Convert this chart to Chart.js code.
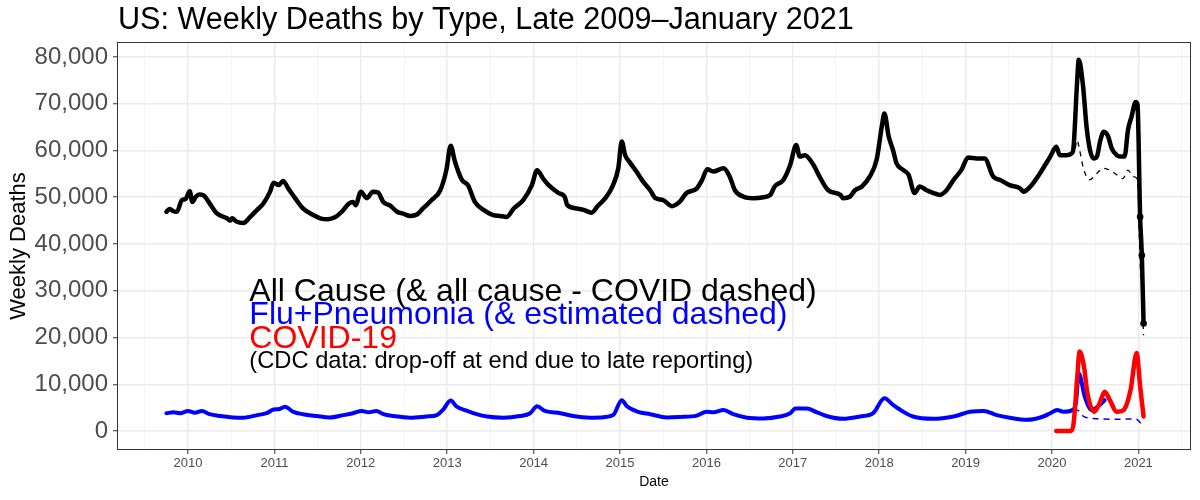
<!DOCTYPE html>
<html>
<head>
<meta charset="utf-8">
<script src="https://cdn.jsdelivr.net/npm/chart.js@4/dist/chart.umd.min.js"></script>
<style>
  html, body { margin: 0; padding: 0; background: #fff; }
</style>
</head>
<body>
<canvas id="deathsChart" width="1200" height="500"></canvas>
<script>
// values, x = decimal year, y = weekly deaths

const allCauseDates = [
  2009.75, 2009.79, 2009.83, 2009.87, 2009.93, 2009.97, 2010.02, 2010.05, 2010.09, 2010.13,
  2010.18, 2010.25, 2010.33, 2010.45, 2010.49, 2010.51, 2010.56, 2010.64, 2010.72, 2010.80,
  2010.87, 2010.95, 2010.99, 2011.05, 2011.10, 2011.16, 2011.24, 2011.33, 2011.45, 2011.53,
  2011.62, 2011.70, 2011.78, 2011.86, 2011.91, 2011.94, 2012.00, 2012.07, 2012.14, 2012.20,
  2012.26, 2012.34, 2012.42, 2012.49, 2012.57, 2012.65, 2012.72, 2012.82, 2012.92, 2012.99,
  2013.04, 2013.09, 2013.17, 2013.24, 2013.32, 2013.42, 2013.53, 2013.61, 2013.69, 2013.77,
  2013.88, 2013.98, 2014.04, 2014.11, 2014.19, 2014.29, 2014.36, 2014.39, 2014.50, 2014.58,
  2014.67, 2014.75, 2014.83, 2014.92, 2014.98, 2015.02, 2015.06, 2015.12, 2015.19, 2015.27,
  2015.35, 2015.41, 2015.50, 2015.60, 2015.69, 2015.77, 2015.89, 2015.95, 2016.01, 2016.08,
  2016.20, 2016.27, 2016.33, 2016.43, 2016.54, 2016.66, 2016.74, 2016.79, 2016.89, 2016.97,
  2017.04, 2017.08, 2017.14, 2017.24, 2017.31, 2017.41, 2017.55, 2017.58, 2017.66, 2017.72,
  2017.80, 2017.89, 2017.97, 2018.03, 2018.06, 2018.11, 2018.16, 2018.20, 2018.28, 2018.34,
  2018.41, 2018.47, 2018.55, 2018.63, 2018.70, 2018.78, 2018.86, 2018.95, 2019.03, 2019.13,
  2019.22, 2019.32, 2019.40, 2019.51, 2019.63, 2019.67, 2019.75, 2019.86, 2019.98, 2020.05,
  2020.09, 2020.17, 2020.23, 2020.25, 2020.29, 2020.31, 2020.36, 2020.40, 2020.44, 2020.48,
  2020.52, 2020.56, 2020.60, 2020.65, 2020.69, 2020.75, 2020.81, 2020.84, 2020.88, 2020.92,
  2020.97, 2020.99, 2021.02, 2021.04, 2021.06
];
const allCauseDeaths = [
  46900, 47500, 47000, 46900, 49400, 49600, 51300, 49000, 50100, 50600,
  50400, 48700, 46600, 45500, 45000, 45500, 44800, 44500, 45800, 47300,
  48600, 51200, 53100, 52600, 53500, 51900, 49800, 47600, 46200, 45500,
  45300, 45700, 46900, 48600, 49000, 48300, 51200, 49800, 51200, 51000,
  49000, 48200, 46900, 46500, 46000, 46300, 47600, 49400, 51500, 55800,
  61000, 57600, 53700, 52600, 49000, 47300, 46200, 46000, 45800, 47600,
  49400, 52600, 55800, 54000, 52300, 50900, 50100, 48300, 47600, 47300,
  46700, 48300, 49800, 52600, 56200, 61900, 59000, 57300, 55500, 53300,
  51500, 49800, 49400, 48100, 49000, 50900, 51900, 53700, 56000, 55500,
  56200, 54400, 51500, 50100, 49800, 50000, 50500, 52300, 53700, 56900,
  61200, 58700, 59000, 56900, 54400, 51500, 50500, 49800, 50100, 51500,
  52300, 54400, 58000, 65100, 67900, 63000, 60100, 57300, 55800, 54800,
  50900, 52300, 51500, 50900, 50500, 51500, 53700, 55800, 58500, 58300,
  58300, 54400, 53700, 52600, 51900, 51200, 52300, 55100, 58700, 60800,
  59000, 59000, 59400, 60800, 74400, 79400, 73700, 65100, 60100, 58300,
  58700, 62200, 64000, 63000, 60500, 59000, 58700, 58700, 64400, 67200,
  70400, 69800, 45800, 37600, 23000
];

const exCovidDates = [
  2020.27, 2020.29, 2020.32, 2020.36, 2020.43, 2020.52, 2020.59, 2020.67, 2020.75, 2020.82,
  2020.88, 2020.94, 2020.99, 2021.02, 2021.04, 2021.06
];
const exCovidDeaths = [
  60500, 62200, 60100, 56500, 53700, 55100, 56200, 55800, 54800, 54000,
  55800, 54400, 53800, 36200, 30000, 20500
];

const fluDates = [
  2009.75, 2009.83, 2009.91, 2010.00, 2010.08, 2010.16, 2010.25, 2010.37, 2010.52, 2010.64,
  2010.80, 2010.91, 2010.99, 2011.06, 2011.12, 2011.22, 2011.33, 2011.49, 2011.64, 2011.80,
  2011.91, 2012.01, 2012.09, 2012.18, 2012.26, 2012.38, 2012.57, 2012.76, 2012.88, 2012.95,
  2013.04, 2013.11, 2013.23, 2013.34, 2013.46, 2013.65, 2013.84, 2013.96, 2014.04, 2014.13,
  2014.31, 2014.46, 2014.65, 2014.77, 2014.92, 2015.02, 2015.08, 2015.21, 2015.35, 2015.54,
  2015.69, 2015.89, 2016.00, 2016.08, 2016.20, 2016.31, 2016.47, 2016.66, 2016.85, 2016.97,
  2017.03, 2017.16, 2017.28, 2017.39, 2017.58, 2017.78, 2017.93, 2018.06, 2018.16, 2018.28,
  2018.39, 2018.62, 2018.86, 2019.05, 2019.21, 2019.36, 2019.51, 2019.71, 2019.90, 2019.98,
  2020.06, 2020.13, 2020.25, 2020.28, 2020.31, 2020.38, 2020.46, 2020.55, 2020.61
];
const fluDeaths = [
  3800, 4000, 3800, 4300, 3900, 4300, 3600, 3200, 2900, 2850,
  3400, 3800, 4600, 4700, 5200, 4100, 3600, 3200, 2900, 3400,
  3800, 4300, 4000, 4300, 3600, 3200, 2850, 3100, 3400, 4500,
  6500, 5200, 4300, 3600, 3100, 2850, 3200, 3800, 5300, 4300,
  3800, 3200, 2850, 2900, 3400, 6600, 5300, 4100, 3600, 2900,
  3000, 3300, 4100, 4000, 4500, 3600, 2850, 2700, 3100, 3800,
  4800, 4800, 4000, 3200, 2600, 3100, 3800, 7000, 5600, 4100,
  3100, 2600, 3100, 4100, 4300, 3400, 2850, 2400, 3100, 3800,
  4500, 4100, 4600, 6500, 12300, 7300, 4500, 5500, 6600
];

const fluEstDates = [2020.25, 2020.31, 2020.36, 2020.42, 2020.55, 2020.77, 2020.95, 2020.99, 2021.06];
const fluEstDeaths = [4600, 4300, 3200, 2800, 2600, 2500, 2600, 2400, 900];

const covidDates = [
  2020.05, 2020.22, 2020.25, 2020.29, 2020.32, 2020.37, 2020.41, 2020.49, 2020.55, 2020.61,
  2020.67, 2020.75, 2020.83, 2020.91, 2020.98, 2021.02, 2021.06
];
const covidDeaths = [
  0, 0, 1600, 10900, 17000, 13800, 8100, 4100, 5900, 8400,
  6600, 4100, 4500, 8800, 16700, 9600, 3100
];

const xTickYears = [2010, 2011, 2012, 2013, 2014, 2015, 2016, 2017, 2018, 2019, 2020, 2021];
const yTickValues = [0, 10000, 20000, 30000, 40000, 50000, 60000, 70000, 80000];

const chartTitle = "US: Weekly Deaths by Type, Late 2009\u2013January 2021";
const noteLines = [
  { text: "All Cause (& all cause - COVID dashed)", color: "#000000", size: 32, y: 27800 },
  { text: "Flu+Pneumonia (& estimated dashed)", color: "#0000ff", size: 32, y: 22800 },
  { text: "COVID-19", color: "#ff0000", size: 32, y: 17800 },
  { text: "(CDC data: drop-off at end due to late reporting)", color: "#000000", size: 23.7, y: 13500 }
];
const noteYear = 2010.71;

const fontFamily = "'Liberation Sans', Arial, Helvetica, sans-serif";

function toPoints(xs, ys) {
  return xs.map((x, i) => ({ x: x, y: ys[i] }));
}

// gridlines every half year / 5,000 deaths, labels on the major ones only
const xGrid = [];
xTickYears.forEach((yr) => { xGrid.push(yr - 0.5); xGrid.push(yr); });
xGrid.push(xTickYears[xTickYears.length - 1] + 0.5);
const yGrid = [];
yTickValues.forEach((v) => { yGrid.push(v); yGrid.push(v + 5000); });
yGrid.pop();

const isMajorX = (v) => xTickYears.includes(v);
const isMajorY = (v) => yTickValues.includes(v);

// frame, title and the text notes
const extras = {
  id: "extras",
  afterDraw(chart) {
    const { ctx, chartArea: a, scales } = chart;
    ctx.save();
    ctx.strokeStyle = "#333333";
    ctx.lineWidth = 1;
    ctx.strokeRect(a.left + 0.5, a.top + 0.5, a.right - a.left - 1, a.bottom - a.top - 1);

    ctx.textAlign = "left";
    ctx.textBaseline = "alphabetic";
    ctx.fillStyle = "#000000";
    ctx.font = "30.6px " + fontFamily;
    ctx.fillText(chartTitle, a.left + 1, 29);

    const nx = scales.x.getPixelForValue(noteYear);
    noteLines.forEach((line) => {
      ctx.font = line.size + "px " + fontFamily;
      ctx.fillStyle = line.color;
      ctx.fillText(line.text, nx, scales.y.getPixelForValue(line.y));
    });
    ctx.restore();
  }
};

const lastIdx = allCauseDates.length - 1;

new Chart(document.getElementById("deathsChart"), {
  type: "line",
  data: {
    datasets: [
      {
        label: "COVID-19",
        data: toPoints(covidDates, covidDeaths),
        borderColor: "#ff0000",
        borderWidth: 4.5,
        pointRadius: 0,
        cubicInterpolationMode: "monotone",
        borderJoinStyle: "round",
        borderCapStyle: "round"
      },
      {
        label: "All cause",
        data: toPoints(allCauseDates, allCauseDeaths),
        borderColor: "#000000",
        backgroundColor: "#000000",
        borderWidth: 4.5,
        pointRadius: (c) => (c.dataIndex >= lastIdx - 2 ? 3.3 : 0),
        pointBorderWidth: 0,
        cubicInterpolationMode: "monotone",
        borderJoinStyle: "round",
        borderCapStyle: "round"
      },
      {
        label: "All cause - COVID",
        data: toPoints(exCovidDates, exCovidDeaths),
        borderColor: "#000000",
        borderWidth: 1.3,
        borderDash: [5, 5],
        pointRadius: 0,
        cubicInterpolationMode: "monotone"
      },
      {
        label: "Flu+Pneumonia",
        data: toPoints(fluDates, fluDeaths),
        borderColor: "#0000ff",
        borderWidth: 4,
        pointRadius: 0,
        cubicInterpolationMode: "monotone",
        borderJoinStyle: "round",
        borderCapStyle: "round"
      },
      {
        label: "Flu+Pneumonia estimated",
        data: toPoints(fluEstDates, fluEstDeaths),
        borderColor: "#0000ff",
        borderWidth: 1.5,
        borderDash: [6, 5],
        pointRadius: 0,
        cubicInterpolationMode: "monotone"
      }
    ]
  },
  options: {
    responsive: false,
    animation: false,
    layout: { padding: { top: 42, right: 9, left: 0, bottom: 0 } },
    plugins: {
      legend: { display: false },
      tooltip: { enabled: false },
      title: { display: false }
    },
    scales: {
      x: {
        type: "linear",
        min: 2009.178,
        max: 2021.609,
        afterBuildTicks: (s) => { s.ticks = xGrid.map((v) => ({ value: v })); },
        afterFit: (s) => { s.height = 50; },
        ticks: {
          autoSkip: false,
          maxRotation: 0,
          padding: 2,
          color: "#4d4d4d",
          font: { family: fontFamily, size: 13 },
          callback: (v) => (isMajorX(v) ? String(v) : "")
        },
        grid: {
          color: (c) => (isMajorX(c.tick.value) ? "#ebebeb" : "#f3f3f3"),
          lineWidth: (c) => (isMajorX(c.tick.value) ? 1.5 : 0.8),
          tickColor: (c) => (isMajorX(c.tick.value) ? "#333333" : "rgba(0,0,0,0)"),
          tickLength: 4,
          tickWidth: 1
        },
        border: { display: false },
        title: {
          display: true,
          text: "Date",
          color: "#000000",
          font: { family: fontFamily, size: 14 },
          padding: { top: 0, bottom: 9 }
        }
      },
      y: {
        type: "linear",
        min: -4064,
        max: 83208,
        afterBuildTicks: (s) => { s.ticks = yGrid.map((v) => ({ value: v })); },
        afterFit: (s) => { s.width = 117; },
        ticks: {
          padding: 5,
          color: "#4d4d4d",
          font: { family: fontFamily, size: 24 },
          callback: (v) => (isMajorY(v) ? v.toLocaleString("en-US") : "")
        },
        grid: {
          color: (c) => (isMajorY(c.tick.value) ? "#ebebeb" : "#f3f3f3"),
          lineWidth: (c) => (isMajorY(c.tick.value) ? 1.5 : 0.8),
          tickColor: (c) => (isMajorY(c.tick.value) ? "#333333" : "rgba(0,0,0,0)"),
          tickLength: 4,
          tickWidth: 1
        },
        border: { display: false },
        title: {
          display: true,
          text: "Weekly Deaths",
          color: "#000000",
          font: { family: fontFamily, size: 22 },
          padding: { top: 6, bottom: 0 }
        }
      }
    }
  },
  plugins: [extras]
});
</script>
</body>
</html>
